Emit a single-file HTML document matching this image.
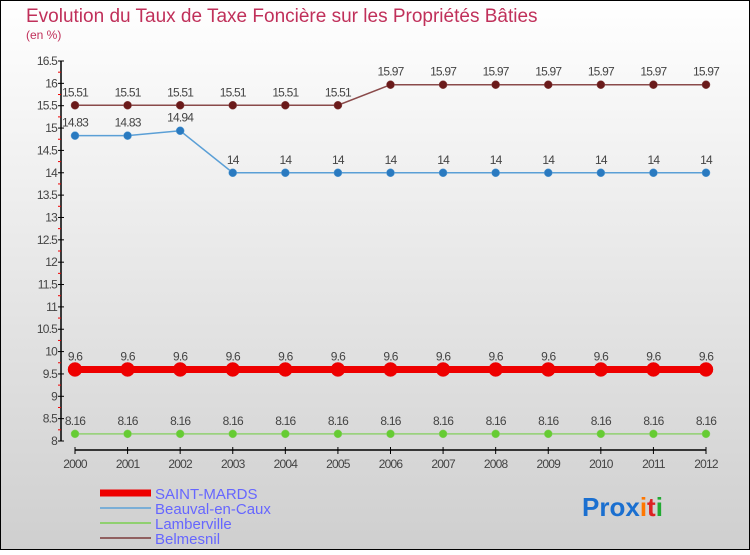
<!DOCTYPE html>
<html><head><meta charset="utf-8"><style>
html,body{margin:0;padding:0}
body{width:750px;height:550px;overflow:hidden;font-family:"Liberation Sans",sans-serif}
</style></head><body>
<svg id="chart" width="750" height="550" xmlns="http://www.w3.org/2000/svg" font-family="Liberation Sans, sans-serif">
<defs><linearGradient id="bg" x1="0" y1="0" x2="0" y2="1"><stop offset="0" stop-color="#ffffff"/><stop offset="1" stop-color="#cfcfcf"/></linearGradient></defs>
<rect x="0.5" y="0.5" width="749" height="549" fill="url(#bg)" stroke="#000"/>
<text x="26" y="22" font-size="19" fill="#c0305a">Evolution du Taux de Taxe Foncière sur les Propriétés Bâties</text>
<text x="26" y="39" font-size="12" fill="#c0305a">(en %)</text>
<g id="axes"></g>
<g id="series"></g>
<g>
<line x1="100" y1="493" x2="151" y2="493" stroke="#ee0000" stroke-width="7"/>
<text x="155" y="499" font-size="15" fill="#6666ff">SAINT-MARDS</text>
<line x1="100" y1="508" x2="151" y2="508" stroke="#7aaed6" stroke-width="2"/>
<text x="155" y="514" font-size="15" fill="#6666ff">Beauval-en-Caux</text>
<line x1="100" y1="523" x2="151" y2="523" stroke="#90d070" stroke-width="2"/>
<text x="155" y="529" font-size="15" fill="#6666ff">Lamberville</text>
<line x1="100" y1="538" x2="151" y2="538" stroke="#906060" stroke-width="2"/>
<text x="155" y="544" font-size="15" fill="#6666ff">Belmesnil</text>
</g>
<text x="582" y="516" font-size="26" font-weight="bold"><tspan fill="#1a6fd0">Pro</tspan><tspan fill="#1a6fd0">x</tspan><tspan fill="#ff7700">i</tspan><tspan fill="#dd2222">t</tspan><tspan fill="#22aa33">i</tspan></text>
</svg>
<script>
const years=[2000,2001,2002,2003,2004,2005,2006,2007,2008,2009,2010,2011,2012];
const yTicks=[8,8.5,9,9.5,10,10.5,11,11.5,12,12.5,13,13.5,14,14.5,15,15.5,16,16.5];
const saintMards=[9.6,9.6,9.6,9.6,9.6,9.6,9.6,9.6,9.6,9.6,9.6,9.6,9.6];
const beauval=[14.83,14.83,14.94,14,14,14,14,14,14,14,14,14,14];
const lamberville=[8.16,8.16,8.16,8.16,8.16,8.16,8.16,8.16,8.16,8.16,8.16,8.16,8.16];
const belmesnil=[15.51,15.51,15.51,15.51,15.51,15.51,15.97,15.97,15.97,15.97,15.97,15.97,15.97];
const NS='http://www.w3.org/2000/svg';
const xS=i=>75+i*(706-75)/(years.length-1);
const yS=v=>441-(v-8)*(380/8.5);
function mk(tag,attrs,parent,txt){const e=document.createElementNS(NS,tag);for(const k in attrs)e.setAttribute(k,attrs[k]);if(txt!==undefined)e.textContent=txt;parent.appendChild(e);return e;}
const ax=document.getElementById('axes');
let l=mk('line',{x1:61,y1:yS(16.5),x2:61,y2:yS(8),stroke:'#000','stroke-width':1.5},ax);


yTicks.forEach(t=>{const y=yS(t);
 mk('line',{x1:58,y1:y,x2:64,y2:y,stroke:'#000'},ax);
 const tx=mk('text',{x:57,y:y+4,'font-size':12,fill:'#444','text-anchor':'end','letter-spacing':'-0.8'},ax,String(t));
 
 
 if(t<16.5){const ym=yS(t+0.25);mk('line',{x1:58,y1:ym,x2:61,y2:ym,stroke:'#e00'},ax);}
});
l=mk('line',{x1:75,y1:450,x2:706,y2:450,stroke:'#000','stroke-width':1.5},ax);


years.forEach((yr,i)=>{const x=xS(i);
 mk('line',{x1:x,y1:447,x2:x,y2:454,stroke:'#000'},ax);
 const tx=mk('text',{x:x,y:468,'font-size':12,fill:'#444','text-anchor':'middle','letter-spacing':'-0.8'},ax,String(yr));
 
 
});
const sg=document.getElementById('series');
function series(name,vals,color,dot,w,r,labs){
 const g=mk('g',{},sg);
 
 
 const p=mk('polyline',{points:vals.map((v,i)=>xS(i)+','+yS(v)).join(' '),fill:'none',stroke:color,'stroke-width':w},g);
 
 
 vals.forEach((v,i)=>{
  const c=mk('circle',{cx:xS(i),cy:yS(v),r:r,fill:dot,stroke:color,'stroke-width':0.5},g);
  
  
  const t=mk('text',{x:xS(i),y:yS(v)-9,'font-size':12,fill:'#444','text-anchor':'middle','letter-spacing':'-0.8'},g,String(v));
  
  
 });
}
series('belmesnil',belmesnil,'#8a4a4a','#6a1a1a',1.5,4);
series('beauval',beauval,'#5a9fd6','#2a7ac0',1.5,4);
series('lamberville',lamberville,'#90d070','#66cc33',1.5,4);
series('saint-mards',saintMards,'#ee0000','#ee0000',7,7);
</script>
</body></html>
